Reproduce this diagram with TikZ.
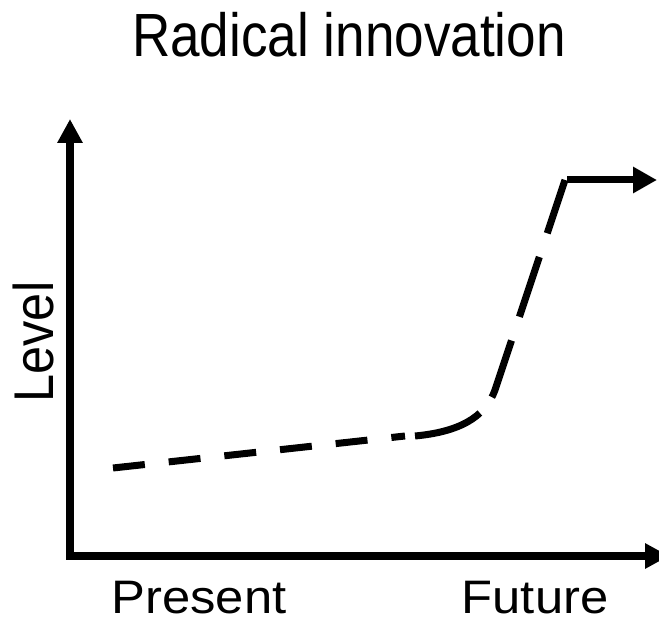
\documentclass[tikz,border=0pt]{standalone}
\usepackage{fontspec}
\setmainfont{Liberation Sans}
\newfontfamily\titlefont[FakeStretch=0.87]{Liberation Sans}
\newfontfamily\levelfont[FakeStretch=0.9]{Liberation Sans}
\newfontfamily\timefont[FakeStretch=1.08]{Liberation Sans}
\usetikzlibrary{arrows.meta}
\begin{document}
\begin{tikzpicture}[x=1pt,y=-1pt,
  axisline/.style={line width=7.5pt,{Triangle[length=24pt,width=24pt]}-{Triangle[length=24pt,width=24pt]}},
  trend/.style={line width=7pt}]
  \useasboundingbox (0,0) rectangle (659,623);
  % labels
  \node[anchor=base] (title) at (349,57) {\titlefont\fontsize{61}{70}\selectfont Radical innovation};
  \node[anchor=base,rotate=90] (level) at (53,342) {\levelfont\fontsize{56}{64}\selectfont Level};
  \node[anchor=base,inner sep=0pt] (present) at (199,613) {\timefont\fontsize{47}{50}\selectfont Present};
  \node[anchor=base,inner sep=0pt] (future) at (535,613) {\timefont\fontsize{47}{50}\selectfont Future};
  % axes
  \coordinate (ytip) at (70,119);
  \coordinate (origin) at (70,556);
  \coordinate (xtip) at (669,556);
  \draw[axisline] (ytip) -- (origin) -- (xtip);
  % curve
  \coordinate (c0) at (113,468);
  \coordinate (c1) at (405,436);
  \coordinate (c2) at (415,436);
  \coordinate (c3) at (495,390);
  \coordinate (c4) at (565,180);
  \coordinate (c5) at (567,180);
  \coordinate (c6) at (657,180);
  \draw[trend,dash pattern=on 32pt off 24pt] (c0) -- (c1);
  \draw[trend,dash pattern=on 70pt off 20pt on 60pt off 25pt on 63pt off 25pt on 60pt off 20pt]
    (c2) .. controls (458,432) and (485,418) .. (c3) -- (c4);
  \draw[trend,-{Triangle[length=24pt,width=25pt]}] (c5) -- (c6);
\end{tikzpicture}
\end{document}
